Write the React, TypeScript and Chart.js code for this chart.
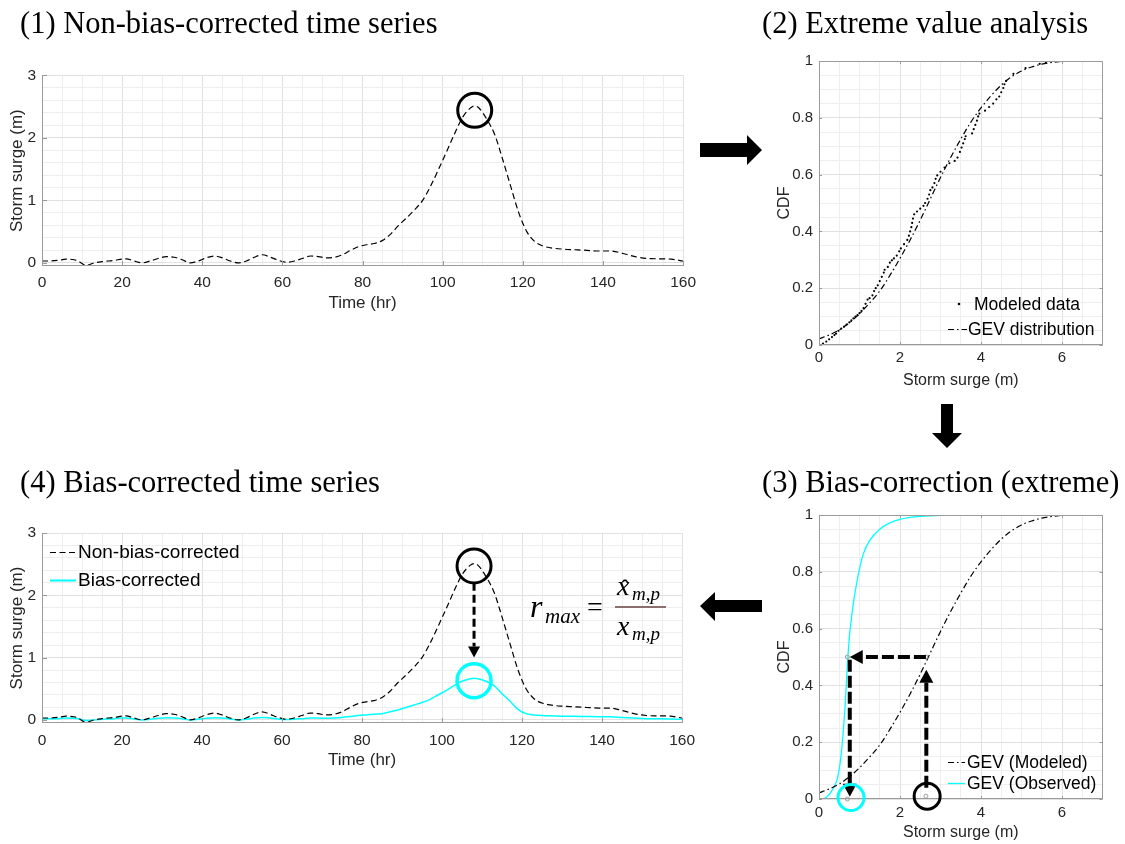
import React, { useEffect, useRef } from 'react';
import { Chart, registerables } from 'chart.js';

Chart.register(...registerables);

const SANS = '"Liberation Sans", Arial, Helvetica, sans-serif';
const SERIF = '"Liberation Serif", "Times New Roman", serif';
const CYAN = '#00FFFF';
const AXIS = '#9a9a9a';
const GRID_MAJOR = '#e1e1e1';
const GRID_MINOR = '#eeeeee';
const TICK_TEXT = '#262626';

// ---------- Time series (panels 1 & 4) ----------
const TIME_HR = [
  0, 2, 4, 6, 8, 9, 11, 13, 15, 18,
  20, 21, 23, 25, 27, 29, 31, 33, 35, 37,
  39, 41, 43, 45, 47, 49, 51, 53, 55, 57,
  59, 61, 63, 65, 67, 69, 71, 73, 75, 77,
  79, 81, 83, 85, 87, 89, 91, 93, 95, 97,
  99, 101, 103, 105, 107, 108, 109, 111, 113, 115,
  117, 119, 121, 123, 125, 127, 130, 133, 136, 139,
  142, 145, 148, 151, 154, 157, 160,
];
const SURGE_RAW = [
  0.03, 0.03, 0.04, 0.06, 0.05, 0.03, -0.04, 0.0, 0.02, 0.04,
  0.06, 0.065, 0.03, 0.0, 0.03, 0.07, 0.1, 0.09, 0.05, 0.0,
  0.03, 0.08, 0.11, 0.08, 0.03, 0.0, 0.03, 0.09, 0.13, 0.09,
  0.04, 0.01, 0.03, 0.07, 0.11, 0.1, 0.08, 0.09, 0.13, 0.2,
  0.26, 0.29, 0.31, 0.36, 0.46, 0.6, 0.72, 0.85, 1.0, 1.23,
  1.5, 1.78, 2.07, 2.33, 2.48, 2.51, 2.48, 2.3, 2.05, 1.65,
  1.22, 0.8, 0.5, 0.34, 0.27, 0.24, 0.22, 0.21, 0.2, 0.19,
  0.19, 0.15, 0.1, 0.07, 0.065, 0.06, 0.03,
];
const SURGE_BC = [
  0.02, 0.02, 0.02, 0.03, 0.025, 0.02, -0.01, 0.0, 0.01, 0.02,
  0.03, 0.03, 0.015, 0.0, 0.01, 0.025, 0.035, 0.03, 0.02, 0.0,
  0.01, 0.025, 0.035, 0.03, 0.015, 0.0, 0.01, 0.03, 0.04, 0.03,
  0.015, 0.005, 0.01, 0.02, 0.03, 0.03, 0.025, 0.03, 0.04, 0.055,
  0.07, 0.08, 0.09, 0.1, 0.13, 0.16, 0.2, 0.24, 0.28, 0.33,
  0.4, 0.47, 0.55, 0.62, 0.66, 0.67, 0.66, 0.62, 0.55, 0.42,
  0.3, 0.17, 0.1, 0.08, 0.07, 0.065, 0.06, 0.058, 0.055, 0.052,
  0.05, 0.04, 0.03, 0.02, 0.018, 0.016, 0.01,
];

// ---------- Extreme value analysis (panels 2 & 3) ----------
const GEV_MOD_X = [0, 0.25, 0.5, 0.75, 1.0, 1.25, 1.5, 1.75, 2.0, 2.25, 2.5, 2.75, 3.0, 3.25, 3.5, 3.75, 4.0, 4.25, 4.5, 4.75, 5.0, 5.25, 5.5, 5.75, 6.0];
const GEV_MOD_CDF = [0.022, 0.035, 0.053, 0.078, 0.11, 0.148, 0.19, 0.245, 0.305, 0.37, 0.44, 0.515, 0.59, 0.66, 0.725, 0.785, 0.835, 0.878, 0.915, 0.944, 0.965, 0.979, 0.989, 0.995, 0.999];

const GEV_OBS_X = [0.1, 0.2, 0.3, 0.4, 0.45, 0.5, 0.55, 0.6, 0.65, 0.7, 0.75, 0.8, 0.85, 0.9, 1.0, 1.1, 1.25, 1.5, 1.75, 2.0, 2.5, 3.0, 3.9];
const GEV_OBS_CDF = [0.0, 0.008, 0.025, 0.05, 0.07, 0.105, 0.16, 0.24, 0.34, 0.47, 0.57, 0.635, 0.69, 0.735, 0.81, 0.865, 0.91, 0.95, 0.972, 0.985, 0.995, 0.999, 1.0];

const MODELED_X = [
  0.1, 0.18, 0.25, 0.32, 0.38, 0.42, 0.48, 0.55, 0.62, 0.68,
  0.75, 0.8, 0.85, 0.9, 0.95, 1.0, 1.05, 1.1, 1.15, 1.2,
  1.25, 1.32, 1.36, 1.4, 1.45, 1.5, 1.55, 1.6, 1.62, 1.7,
  1.75, 1.8, 1.85, 1.92, 1.98, 2.02, 2.1, 2.18, 2.22, 2.25,
  2.28, 2.3, 2.32, 2.35, 2.42, 2.5, 2.58, 2.62, 2.68, 2.72,
  2.75, 2.8, 2.85, 2.88, 2.92, 3.0, 3.1, 3.22, 3.35, 3.42,
  3.48, 3.52, 3.56, 3.6, 3.62, 3.78, 3.82, 3.86, 3.9, 3.93,
  3.96, 4.1, 4.2, 4.3, 4.38, 4.45, 4.5, 4.55, 4.58, 4.62,
  4.8, 5.1, 5.45, 5.6,
];
const MODELED_CDF = [
  0.005, 0.012, 0.02, 0.028, 0.035, 0.04, 0.05, 0.058, 0.065, 0.072,
  0.08, 0.087, 0.094, 0.1, 0.105, 0.112, 0.12, 0.13, 0.145, 0.16,
  0.165, 0.175, 0.19, 0.2, 0.21, 0.225, 0.24, 0.255, 0.265, 0.275,
  0.29, 0.298, 0.305, 0.315, 0.33, 0.34, 0.355, 0.37, 0.385, 0.4,
  0.415, 0.43, 0.445, 0.46, 0.47, 0.48, 0.49, 0.5, 0.515, 0.53,
  0.545, 0.555, 0.57, 0.585, 0.597, 0.61, 0.625, 0.64, 0.648, 0.66,
  0.68, 0.695, 0.71, 0.725, 0.735, 0.745, 0.76, 0.775, 0.79, 0.805,
  0.815, 0.825, 0.838, 0.85, 0.865, 0.875, 0.89, 0.905, 0.918, 0.93,
  0.955, 0.975, 0.99, 0.995,
];

// ---------- tick labels ----------
const TS_X_LABELS = [0, 20, 40, 60, 80, 100, 120, 140, 160];
const TS_Y_LABELS = [0, 1, 2, 3];
const CDF_X_LABELS = [0, 2, 4, 6];
const CDF_Y_LABELS = [0, 0.2, 0.4, 0.6, 0.8, 1];

// ---------- annotation anchors (data coordinates) ----------
const P1_CIRCLE = { x: 108, y: 2.44 };
const P4_CIRCLE_RAW = { x: 108, y: 2.47 };
const P4_CIRCLE_BC = { x: 108, y: 0.63 };
const P4_ARROW = { x: 108, from: 2.2, to: 1.0 };
const P3_X_MOD = 2.65;
const P3_X_OBS = 0.76;
const P3_P = 0.5;

function range(a: number, b: number, step: number) {
  const out: number[] = [];
  const n = Math.round((b - a) / step);
  for (let i = 0; i <= n; i++) out.push(+(a + i * step).toFixed(6));
  return out;
}
const pts = (xs: number[], ys: number[]) => xs.map((x, i) => ({ x, y: ys[i] }));
const fmt = (v: number) => String(Math.round(v * 10) / 10);

function axis(o: any) {
  const isLabel = (v: number) => o.labels.some((l: number) => Math.abs(l - v) < 1e-6);
  return {
    type: 'linear',
    position: o.horizontal ? 'bottom' : 'left',
    min: o.min,
    max: o.max,
    afterBuildTicks: (s: any) => {
      s.ticks = o.ticks.map((v: number) => ({ value: v }));
    },
    afterFit: (s: any) => {
      if (o.horizontal) s.height = o.size;
      else s.width = o.size;
    },
    grid: {
      drawTicks: false,
      lineWidth: 1,
      color: (c: any) => (c.tick && isLabel(c.tick.value) ? GRID_MAJOR : GRID_MINOR),
    },
    border: { display: false },
    ticks: {
      autoSkip: false,
      maxRotation: 0,
      minRotation: 0,
      padding: o.tickPad,
      color: TICK_TEXT,
      font: { family: SANS, size: o.tickSize },
      callback: (v: number) => (isLabel(v) ? fmt(v) : ''),
    },
    title: {
      display: true,
      text: o.title,
      color: TICK_TEXT,
      font: { family: SANS, size: o.titleSize },
      padding: o.titlePad,
    },
  };
}

function dashedArrow(ctx: any, x1: number, y1: number, x2: number, y2: number, lw: number, dash: number[], hl: number, hw: number, color: string) {
  const ang = Math.atan2(y2 - y1, x2 - x1);
  const bx = x2 - hl * Math.cos(ang);
  const by = y2 - hl * Math.sin(ang);
  ctx.save();
  ctx.strokeStyle = color;
  ctx.lineWidth = lw;
  ctx.setLineDash(dash);
  ctx.beginPath();
  ctx.moveTo(x1, y1);
  ctx.lineTo(bx, by);
  ctx.stroke();
  ctx.setLineDash([]);
  ctx.fillStyle = color;
  ctx.beginPath();
  ctx.moveTo(x2, y2);
  ctx.lineTo(bx + hw * Math.sin(ang), by - hw * Math.cos(ang));
  ctx.lineTo(bx - hw * Math.sin(ang), by + hw * Math.cos(ang));
  ctx.closePath();
  ctx.fill();
  ctx.restore();
}

function decor(a: any) {
  return {
    id: 'decor',
    afterDatasetsDraw(chart: any) {
      const { ctx, chartArea: ca, scales } = chart;
      const xs = scales.x;
      const ys = scales.y;
      const X = (v: number) => xs.getPixelForValue(v);
      const Y = (v: number) => ys.getPixelForValue(v);
      ctx.save();
      // axes
      ctx.strokeStyle = AXIS;
      ctx.lineWidth = 1;
      ctx.setLineDash([]);
      ctx.beginPath();
      ctx.moveTo(Math.round(ca.left) + 0.5, ca.top);
      ctx.lineTo(Math.round(ca.left) + 0.5, Math.round(ca.bottom) - 0.5);
      ctx.lineTo(ca.right, Math.round(ca.bottom) - 0.5);
      if (a.box) {
        ctx.moveTo(Math.round(ca.right) - 0.5, Math.round(ca.bottom));
        ctx.lineTo(Math.round(ca.right) - 0.5, Math.round(ca.top) + 0.5);
        ctx.lineTo(ca.left, Math.round(ca.top) + 0.5);
      }
      ctx.stroke();
      ctx.beginPath();
      for (const v of a.xMajor) {
        const px = Math.round(X(v)) + 0.5;
        ctx.moveTo(px, ca.bottom);
        ctx.lineTo(px, ca.bottom - a.tickLen);
        if (a.box) {
          ctx.moveTo(px, ca.top);
          ctx.lineTo(px, ca.top + a.tickLen);
        }
      }
      for (const v of a.yMajor) {
        const py = Math.round(Y(v)) + 0.5;
        ctx.moveTo(ca.left, py);
        ctx.lineTo(ca.left + a.tickLen, py);
        if (a.box) {
          ctx.moveTo(ca.right, py);
          ctx.lineTo(ca.right - a.tickLen, py);
        }
      }
      ctx.stroke();

      // small grey markers
      (a.marks || []).forEach((m: any) => {
        ctx.strokeStyle = '#9a9a9a';
        ctx.lineWidth = 1;
        ctx.beginPath();
        ctx.arc(X(m.x), Y(m.y), 2, 0, Math.PI * 2);
        ctx.stroke();
      });
      // arrows
      (a.arrows || []).forEach((r: any) => {
        dashedArrow(ctx, X(r.x1), Y(r.y1), X(r.x2), Y(r.y2), r.lw, r.dash, r.hl, r.hw, '#000');
      });
      // circles
      (a.circles || []).forEach((c: any) => {
        ctx.strokeStyle = c.color;
        ctx.lineWidth = c.lw;
        ctx.setLineDash([]);
        ctx.beginPath();
        ctx.arc(X(c.x), Y(c.y), c.r, 0, Math.PI * 2);
        ctx.stroke();
      });
      // legend
      (a.legend || []).forEach((l: any) => {
        ctx.save();
        if (l.kind === 'dot') {
          ctx.fillStyle = l.color;
          ctx.beginPath();
          ctx.arc(l.x1, l.y, 1.3, 0, Math.PI * 2);
          ctx.fill();
        } else {
          ctx.strokeStyle = l.color;
          ctx.lineWidth = l.lw;
          ctx.setLineDash(l.dash || []);
          ctx.beginPath();
          ctx.moveTo(l.x1, l.y + 0.5);
          ctx.lineTo(l.x2, l.y + 0.5);
          ctx.stroke();
        }
        ctx.fillStyle = '#000';
        ctx.font = `${a.legendFont}px ${SANS}`;
        ctx.textBaseline = 'middle';
        ctx.textAlign = 'left';
        ctx.fillText(l.label, l.tx, l.y + 1);
        ctx.restore();
      });
      ctx.restore();
    },
  };
}

function baseOptions(padding: any, scales: any) {
  return {
    responsive: false,
    animation: false,
    devicePixelRatio: 1,
    events: [],
    layout: { padding },
    plugins: { legend: { display: false }, tooltip: { enabled: false } },
    scales,
  };
}

function panel1Config() {
  return {
    type: 'scatter',
    data: {
      datasets: [
        { data: pts(TIME_HR, SURGE_RAW), showLine: true, borderColor: '#000', borderWidth: 1.2, borderDash: [6, 3.5], pointRadius: 0, cubicInterpolationMode: 'monotone', fill: false },
      ],
    },
    options: baseOptions({ left: 0, top: 13, right: 14, bottom: 0 }, {
      x: axis({ horizontal: true, min: 0, max: 160, ticks: range(0, 160, 5), labels: TS_X_LABELS, size: 59, tickPad: 7, tickSize: 15.5, title: 'Time (hr)', titleSize: 17, titlePad: { top: 0, bottom: 11 } }),
      y: axis({ horizontal: false, min: -0.05, max: 3, ticks: range(0, 3, 0.2), labels: TS_Y_LABELS, size: 42, tickPad: 6, tickSize: 15.5, title: 'Storm surge (m)', titleSize: 17, titlePad: { top: 7, bottom: 0 } }),
    }),
    plugins: [decor({ box: false, tickLen: 5, xMajor: TS_X_LABELS, yMajor: TS_Y_LABELS, circles: [{ x: P1_CIRCLE.x, y: P1_CIRCLE.y, r: 17, color: '#000', lw: 3 }] })],
  };
}

function panel2Config() {
  return {
    type: 'scatter',
    data: {
      datasets: [
        { data: pts(GEV_MOD_X, GEV_MOD_CDF), showLine: true, borderColor: '#000', borderWidth: 1.2, borderDash: [6, 3, 1.5, 3], pointRadius: 0, cubicInterpolationMode: 'monotone', fill: false },
        { data: pts(MODELED_X, MODELED_CDF), showLine: false, pointRadius: 1.1, pointBorderWidth: 0, pointBackgroundColor: '#000', backgroundColor: '#000' },
      ],
    },
    options: baseOptions({ left: 0, top: 16, right: 17.5, bottom: 0 }, {
      x: axis({ horizontal: true, min: 0, max: 7, ticks: range(0, 7, 0.5), labels: CDF_X_LABELS, size: 45, tickPad: 4, tickSize: 15, title: 'Storm surge (m)', titleSize: 16, titlePad: { top: 0, bottom: 0 } }),
      y: axis({ horizontal: false, min: 0, max: 1, ticks: range(0, 1, 0.05), labels: CDF_Y_LABELS, size: 49, tickPad: 6, tickSize: 15, title: 'CDF', titleSize: 16, titlePad: { top: 5, bottom: 0 } }),
    }),
    plugins: [decor({
      box: true, tickLen: 3, xMajor: CDF_X_LABELS, yMajor: CDF_Y_LABELS, legendFont: 17.5,
      legend: [
        { kind: 'dot', color: '#000', x1: 189, y: 259, tx: 204, label: 'Modeled data' },
        { kind: 'line', color: '#000', lw: 1.2, dash: [6, 3, 1.5, 3], x1: 178, x2: 197, y: 284, tx: 198, label: 'GEV distribution' },
      ],
    })],
  };
}

function panel3Config() {
  return {
    type: 'scatter',
    data: {
      datasets: [
        { data: pts(GEV_MOD_X, GEV_MOD_CDF), showLine: true, borderColor: '#000', borderWidth: 1.2, borderDash: [6, 3, 1.5, 3], pointRadius: 0, cubicInterpolationMode: 'monotone', fill: false },
        { data: pts(GEV_OBS_X, GEV_OBS_CDF), showLine: true, borderColor: CYAN, borderWidth: 1.3, pointRadius: 0, cubicInterpolationMode: 'monotone', fill: false },
      ],
    },
    options: baseOptions({ left: 0, top: 15, right: 17.5, bottom: 0 }, {
      x: axis({ horizontal: true, min: 0, max: 7, ticks: range(0, 7, 0.5), labels: CDF_X_LABELS, size: 45, tickPad: 5, tickSize: 15, title: 'Storm surge (m)', titleSize: 16, titlePad: { top: 0, bottom: 2 } }),
      y: axis({ horizontal: false, min: 0, max: 1, ticks: range(0, 1, 0.05), labels: CDF_Y_LABELS, size: 49, tickPad: 6, tickSize: 15, title: 'CDF', titleSize: 16, titlePad: { top: 5, bottom: 0 } }),
    }),
    plugins: [decor({
      box: true, tickLen: 3, xMajor: CDF_X_LABELS, yMajor: CDF_Y_LABELS, legendFont: 17.5,
      marks: [{ x: 0.7, y: P3_P }, { x: 0.7, y: 0 }, { x: 2.64, y: P3_P }, { x: 2.64, y: 0.01 }],
      arrows: [
        { x1: P3_X_MOD, y1: 0.04, x2: P3_X_MOD, y2: 0.455, lw: 4, dash: [12, 4], hl: 13, hw: 7 },
        { x1: 2.64, y1: P3_P, x2: P3_X_OBS, y2: P3_P, lw: 4, dash: [12, 4], hl: 13, hw: 7 },
        { x1: P3_X_OBS, y1: 0.49, x2: P3_X_OBS, y2: 0.008, lw: 4, dash: [12, 4], hl: 13, hw: 7 },
      ],
      circles: [
        { x: 0.79, y: 0.005, r: 13, color: CYAN, lw: 3 },
        { x: 2.67, y: 0.01, r: 13, color: '#000', lw: 3 },
      ],
      legend: [
        { kind: 'line', color: '#000', lw: 1.2, dash: [6, 3, 1.5, 3], x1: 178, x2: 195, y: 262, tx: 197, label: 'GEV (Modeled)' },
        { kind: 'line', color: CYAN, lw: 1.3, dash: [], x1: 178, x2: 195, y: 283, tx: 197, label: 'GEV (Observed)' },
      ],
    })],
  };
}

function panel4Config() {
  return {
    type: 'scatter',
    data: {
      datasets: [
        { data: pts(TIME_HR, SURGE_RAW), showLine: true, borderColor: '#000', borderWidth: 1.2, borderDash: [6, 3.5], pointRadius: 0, cubicInterpolationMode: 'monotone', fill: false },
        { data: pts(TIME_HR, SURGE_BC), showLine: true, borderColor: CYAN, borderWidth: 1.5, pointRadius: 0, cubicInterpolationMode: 'monotone', fill: false },
      ],
    },
    options: baseOptions({ left: 0, top: 18, right: 14, bottom: 0 }, {
      x: axis({ horizontal: true, min: 0, max: 160, ticks: range(0, 160, 5), labels: TS_X_LABELS, size: 57, tickPad: 8, tickSize: 15.5, title: 'Time (hr)', titleSize: 17, titlePad: { top: 0, bottom: 9 } }),
      y: axis({ horizontal: false, min: -0.05, max: 3, ticks: range(0, 3, 0.2), labels: TS_Y_LABELS, size: 42, tickPad: 6, tickSize: 15.5, title: 'Storm surge (m)', titleSize: 17, titlePad: { top: 7, bottom: 0 } }),
    }),
    plugins: [decor({
      box: false, tickLen: 5, xMajor: TS_X_LABELS, yMajor: TS_Y_LABELS, legendFont: 19,
      arrows: [{ x1: P4_ARROW.x, y1: P4_ARROW.from, x2: P4_ARROW.x, y2: P4_ARROW.to, lw: 3, dash: [8, 4], hl: 11, hw: 6 }],
      circles: [
        { x: P4_CIRCLE_RAW.x, y: P4_CIRCLE_RAW.y, r: 17, color: '#000', lw: 3 },
        { x: P4_CIRCLE_BC.x, y: P4_CIRCLE_BC.y, r: 17, color: CYAN, lw: 3.5 },
      ],
      legend: [
        { kind: 'line', color: '#000', lw: 1.2, dash: [6, 3.5], x1: 50, x2: 76, y: 37, tx: 78, label: 'Non-bias-corrected' },
        { kind: 'line', color: CYAN, lw: 2, dash: [], x1: 50, x2: 76, y: 65, tx: 78, label: 'Bias-corrected' },
      ],
    })],
  };
}

function ChartPanel(props: { left: number; top: number; width: number; height: number; build: () => any }) {
  const ref = useRef<HTMLCanvasElement | null>(null);
  useEffect(() => {
    const chart = new Chart(ref.current as HTMLCanvasElement, props.build());
    return () => chart.destroy();
  }, []);
  return (
    <canvas
      ref={ref}
      width={props.width}
      height={props.height}
      style={{ position: 'absolute', left: props.left, top: props.top, width: props.width, height: props.height }}
    />
  );
}

export default function App() {
  const italic = { fontFamily: SERIF, fontStyle: 'italic' as const };
  return (
    <div style={{ position: 'absolute', left: 0, top: 0, width: 1125, height: 844, background: '#fff', overflow: 'hidden' }}>
      <ChartPanel left={0} top={60} width={703} height={265} build={panel1Config} />
      <ChartPanel left={770} top={45} width={350} height={345} build={panel2Config} />
      <ChartPanel left={770} top={500} width={350} height={344} build={panel3Config} />
      <ChartPanel left={0} top={515} width={703} height={265} build={panel4Config} />
      <svg width={1125} height={844} style={{ position: 'absolute', left: 0, top: 0, pointerEvents: 'none' }}>
        <g fontFamily={SERIF} fontSize={30.5} fill="#000">
          <text x={20} y={33}>(1) Non-bias-corrected time series</text>
          <text x={762} y={33}>(2) Extreme value analysis</text>
          <text x={762} y={492}>(3) Bias-correction (extreme)</text>
          <text x={20} y={492}>(4) Bias-corrected time series</text>
        </g>
        <polygon points="700,143 747,143 747,135 762,150 747,165 747,157 700,157" fill="#000" />
        <polygon points="941,404 953,404 953,433 962,433 947,448 932,433 941,433" fill="#000" />
        <polygon points="762,600 715,600 715,592 700,606 715,621 715,612 762,612" fill="#000" />
        <g fill="#000">
          <text x={530} y={617} fontSize={32} style={italic}>r</text>
          <text x={545} y={623} fontSize={21} style={italic}>max</text>
          <text x={587} y={616} fontSize={28} fontFamily={SERIF}>=</text>
          <rect x={615} y={606} width={51} height={2} fill="#8a706c" />
          <text x={617} y={595} fontSize={28} style={italic}>x</text>
          <text x={621} y={596} fontSize={24} fontFamily={SERIF}>ˆ</text>
          <text x={632} y={600} fontSize={19} style={italic}>m,p</text>
          <text x={617} y={635} fontSize={28} style={italic}>x</text>
          <text x={632} y={640} fontSize={19} style={italic}>m,p</text>
        </g>
      </svg>
    </div>
  );
}
